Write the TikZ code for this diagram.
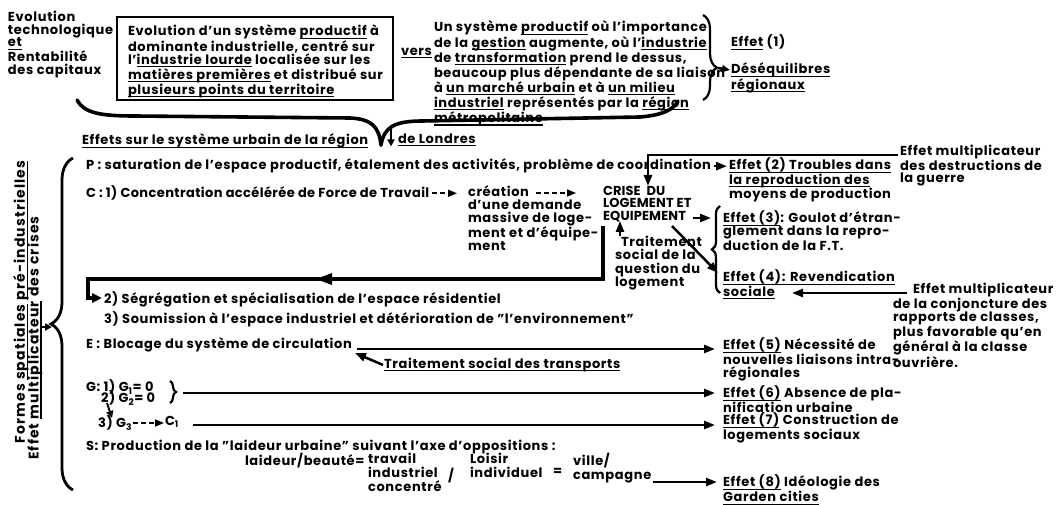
\documentclass[tikz,border=0pt]{standalone}
\usepackage{fontspec}
\setmainfont{Poppins}[LetterSpace=5]
\usetikzlibrary{arrows.meta,decorations.pathreplacing}
\newsavebox{\ulbx}
\newcommand{\U}[1]{\sbox{\ulbx}{#1}\leavevmode\rlap{\raisebox{-2.8pt}{\rule{\wd\ulbx}{1.1pt}}}\usebox{\ulbx}}
\newcommand{\fz}[2]{\fontsize{#1}{#2}\selectfont\bfseries}
\begin{document}
\begin{tikzpicture}[x=1pt,y=-1pt,
  txt/.style={anchor=north west, inner sep=0pt, outer sep=0pt, align=left, font=\fz{13}{12.4}},
  arr/.style={line width=2.5pt, -{Triangle[length=11pt,width=8pt]}},
  darr/.style={line width=1.6pt, dash pattern=on 5pt off 3pt, -{Triangle[length=9pt,width=7pt]}},
  brc/.style={line width=2.2pt, decorate, decoration={brace, amplitude=#1}},
  vtxt/.style={rotate=90, inner sep=0pt, font={\fz{14}{13}\addfontfeature{LetterSpace=8}}},
]
\useasboundingbox (0,0) rectangle (1060,505);

% ---------- top part ----------
\node[txt, font=\fz{13}{12.7}] (ltop) at (8,11) {Evolution\\technologique\\\U{et}\\Rentabilité\\des capitaux};
\draw[line width=2.8pt] (117,17) rectangle (393,100);
\node[txt, font=\fz{13}{12}] (boxt) at (128,25) {Evolution d'un système \U{productif} à\\dominante industrielle, centré sur\\l'\U{industrie lourde} localisée sur les\\\U{matières premières} et distribué sur\\\U{plusieurs points du territoire}};
\node[txt] (vers) at (401,48) {\U{vers}};
\node[txt, font=\fz{13}{12.5}] (rtxt) at (434,21) {Un système \U{productif} où l'importance\\de la \U{gestion} augmente, où l'\U{industrie}\\de \U{transformation} prend le dessus,\\beaucoup plus dépendante de sa liaison\\à \U{un marché urbain} et à \U{un milieu}\\\U{industriel} représentés par la \U{région}\\\U{métropolitaine}};
\node[txt] (e1) at (731,35) {\U{Effet} (1)};
\node[txt, font=\fz{13}{12}] (e1b) at (731,63) {\U{Déséquilibres}\\\U{régionaux}};
\draw[brc=14pt, decoration={aspect=0.62}] (703,15) -- (703,100);
\coordinate (b1tip) at (718,68);
\draw[arr, -{Triangle[length=8pt,width=7pt]}] (b1tip) -- ([xshift=-1pt]e1b.west |- 0,70);

% big horizontal brace
\draw[line width=3.6pt, line cap=round] (77,100) .. controls (84,113) and (100,116) .. (135,116) -- (350,118) .. controls (372,119) and (379,127) .. (381,145);
\draw[line width=3.6pt, line cap=round] (381,145) .. controls (384,128) and (393,121) .. (422,121) -- (640,117) .. controls (664,115) and (674,109) .. (678,101);
\node[txt] (head) at (82,134) {\U{Effets sur le système urbain de la région}};
\node[txt] (head2) at (398,134) {\U{de Londres}};
\coordinate (dtop) at (391,127);
\draw[arr, line width=1.8pt, -{Triangle[length=7pt,width=7pt]}] (dtop) -- (391,0 |- head2.south);

% ---------- left brace and vertical texts ----------
\draw[brc=22pt, line width=2.8pt] (73,490) -- (73,158);
\node[vtxt] (vt1) at (21,302) {Formes \U{spatiales} \U{pré-industrielles}};
\node[vtxt] (vt2) at (35,338) {Effet \U{multiplicateur} des crises};
\coordinate (vtarr) at (40,327);
\coordinate (lbtip) at (52,327);
\draw[arr, line width=1.8pt, -{Triangle[length=7pt,width=7pt]}] (vtarr) -- (lbtip);

% ---------- P ----------
\node[txt] (P) at (86,159) {P : saturation de l'espace productif, étalement des activités, problème de coordination};
\node[txt, font=\fz{13}{12}] (e2) at (729,158) {\U{Effet (2) Troubles dans}\\\U{la reproduction des}\\moyens de production};
\draw[arr] ([xshift=3pt]P.east) -- ([xshift=-2pt]e2.west |- P.east);
\node[txt, font=\fz{13}{12.5}] (em1) at (900,145) {Effet multiplicateur\\des destructions de\\la guerre};

% ---------- C ----------
\node[txt, font={\fz{13}{12.4}\addfontfeature{LetterSpace=3}}] (C) at (86,186) {C : 1) Concentration accélérée de Force de Travail};
\node[txt, font=\fz{13}{12.8}] (cre) at (468,186) {création\\d'une demande\\massive de loge-\\ment et d'équipe-\\ment};
\node[txt, font={\fz{13}{12.5}\addfontfeature{LetterSpace=1}}] (crise) at (603,186) {CRISE \ DU\\LOGEMENT ET\\EQUIPEMENT};
\draw[arr] ([xshift=-2pt]em1.west |- 0,155) -- (648,155) -- (648,0 |- crise.north);
\draw[darr] ([xshift=3pt]C.east) -- ([xshift=-11pt]cre.west |- C.east);
\coordinate (cre1) at (536,193);
\coordinate (cre2) at (576,193);
\draw[darr] (cre1) -- (cre2);
\node[txt, font=\fz{13}{12.5}] (e3) at (723,211) {\U{Effet (3)}: Goulot d'étran-\\glement dans la repro-\\duction de la F.T.};
\coordinate (eqend) at (693,218);
\draw[arr] (eqend) -- ([xshift=-12pt]e3.west |- 0,218);
\draw[brc=8pt] (720,293) -- (720,206);
\node[txt, font=\fz{13}{13.3}] (trait) at (615,236) {\hspace*{6pt}Traitement\\social de la\\question du\\logement};
\draw[arr] ([xshift=5pt]trait.north west) -- (620,221);
\coordinate (dg1) at (672,226);
\coordinate (dg2) at (718,273);
\draw[arr] (dg1) -- (dg2);
\node[txt, font=\fz{13}{13}] (e4) at (723,270) {\U{Effet (4): Revendication}\\\U{sociale}};
\node[txt, font=\fz{13}{13.5}] (em2) at (893,283) {\hspace*{20pt}Effet multiplicateur\\de la conjoncture des\\rapports de classes,\\plus favorable qu'en\\général à la classe\\ouvrière.};
\coordinate (socend) at (792,293);
\draw[arr] ([xshift=14pt]em2.north west |- 0,293) -- (socend);

% thick return path
\coordinate (ret0) at (603,226);
\coordinate (ret1) at (88,279);
\draw[line width=3.8pt, -{Triangle[length=10pt,width=9pt]}] (ret0) -- (603,279) -- (ret1) -- (88,298) -- (102,298);
\fill (316,279) -- (332,273) -- (332,285) -- cycle;
\node[txt] (seg) at (104,292) {2) Ségrégation et spécialisation de l'espace résidentiel};
\node[txt] (soum) at (104,312) {3) Soumission à l'espace industriel et détérioration de "l'environnement"};

% ---------- E ----------
\node[txt] (E) at (86,338) {E : Blocage du système de circulation};
\node[txt, font=\fz{13}{13}] (e5) at (723,338) {\U{Effet (5)} Nécessité de\\nouvelles liaisons intra-\\régionales};
\draw[arr] ([xshift=5pt]E.east |- 0,349) -- ([xshift=-8pt]e5.west |- 0,349);
\node[txt] (tst) at (384,358) {\U{Traitement social des transports}};
\draw[arr] ([xshift=-1pt]tst.west) -- ([xshift=3pt]E.east |- 0,353);

% ---------- G ----------
\node[txt] (G1) at (86,380) {G: 1) G\textsubscript{1}= 0};
\node[txt] (G2) at (101,391) {2) G\textsubscript{2}= 0};
\draw[brc=6pt] (170,381) -- (170,403);
\node[txt, font=\fz{13}{12}] (e6) at (723,386) {\U{Effet (6)} Absence de pla-\\nification urbaine};
\draw[arr] (183,393) -- ([xshift=-8pt]e6.west |- 0,393);
\coordinate (g2d) at (107,403);
\node[txt] (G3) at (98,416) {3) G\textsubscript{3}};
\node[txt] (C1) at (165,416) {C\textsubscript{1}};
\draw[arr, line width=1.8pt, -{Triangle[length=7pt,width=7pt]}] (g2d) -- (112,418);
\draw[darr] ([xshift=1pt]G3.east |- 0,423) -- ([xshift=-1pt]C1.west |- 0,423);
\node[txt, font=\fz{13}{12}] (e7) at (723,413) {\U{Effet (7)} Construction de\\logements sociaux};
\draw[arr] ([xshift=14pt]C1.east |- 0,425) -- ([xshift=-8pt]e7.west |- 0,425);

% ---------- S ----------
\node[txt] (S) at (86,440) {S: Production de la "laideur urbaine" suivant l'axe d'oppositions :};
\node[txt] (laid) at (245,453) {laideur/beauté=};
\node[txt, font=\fz{13}{14}] (trav) at (368,453) {travail\\industriel\\concentré};
\node[txt] (sl) at (448,468) {/};
\node[txt, font=\fz{13}{14}] (lois) at (470,453) {Loisir\\individuel};
\node[txt] (eq) at (553,468) {=};
\node[txt, font=\fz{13}{14}] (ville) at (573,453) {ville/\\campagne};
\node[txt, font=\fz{13}{12}] (e8) at (723,475) {\U{Effet (8)} Idéologie des\\\U{Garden cities}};
\draw[arr] ([xshift=2pt]ville.south east |- 0,482) -- ([xshift=-6pt]e8.west |- 0,482);
\end{tikzpicture}
\end{document}
